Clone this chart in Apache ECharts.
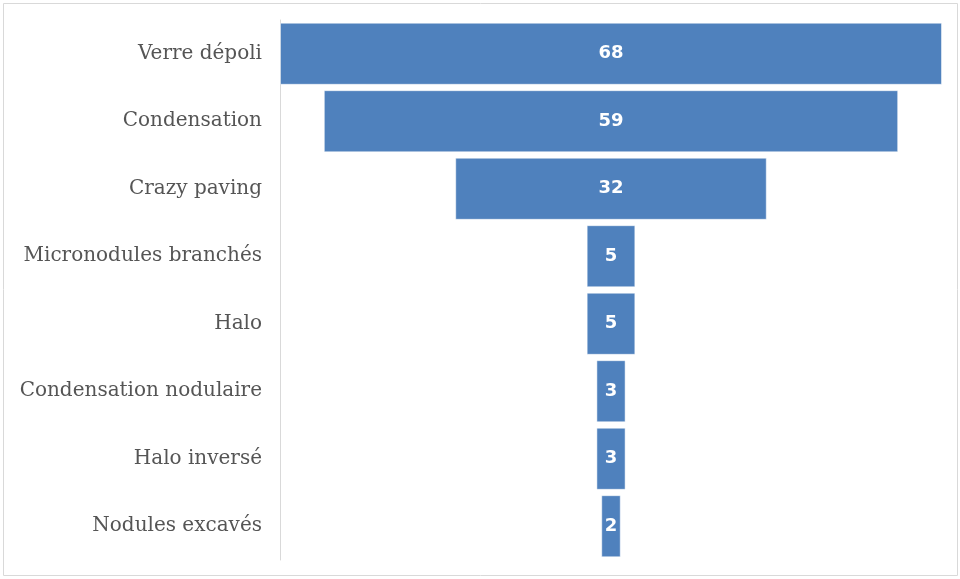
<!DOCTYPE html>
<html>
<head>
<meta charset="utf-8">
<script src="https://cdn.jsdelivr.net/npm/echarts@6/dist/echarts.min.js"></script>
<style>
    html, body { margin: 0; padding: 0; background: #fff; }
    #funnel-chart { width: 960px; height: 579px; }
</style>
</head>
<body>
<div id="funnel-chart"></div>
<script>
    // categories, top to bottom
    var categories = ["Verre dépoli", "Condensation", "Crazy paving", "Micronodules branchés",
        "Halo", "Condensation nodulaire", "Halo inversé", "Nodules excavés"];
    var counts = [68, 59, 32, 5, 5, 3, 3, 2];
    var maxCount = 68;

    // invisible padding so each bar sits centred
    var padding = counts.map(function (v) { return (maxCount - v) / 2; });

    var myChart = echarts.init(document.getElementById("funnel-chart"));
    var options = {
        animation: false,
        grid: { left: 280, right: 18, top: 20, bottom: 19 },
        graphic: [{
            type: 'rect',
            shape: { x: 3.5, y: 3.5, width: 954, height: 572 },
            style: { fill: 'none', stroke: '#d9d9d9', lineWidth: 1 },
            silent: true
        }],
        xAxis: {
            type: 'value',
            min: 0,
            max: maxCount,
            show: false
        },
        yAxis: {
            type: 'category',
            inverse: true,
            data: categories,
            axisTick: { show: false },
            axisLine: { show: true, lineStyle: { color: '#d9d9d9' } },
            axisLabel: {
                margin: 18,
                color: '#555555',
                fontSize: 20,
                fontFamily: 'DejaVu Serif'
            }
        },
        series: [
            {
                type: 'bar',
                stack: 'f',
                data: padding,
                itemStyle: { color: 'transparent' },
                silent: true
            },
            {
                type: 'bar',
                stack: 'f',
                data: counts,
                barCategoryGap: '8%',
                itemStyle: {
                    color: '#4f81bd',
                    borderColor: 'rgba(255,255,255,0.5)',
                    borderWidth: 1
                },
                label: {
                    show: true,
                    position: 'inside',
                    color: '#fff',
                    fontSize: 18,
                    fontWeight: 'bold',
                    fontFamily: 'DejaVu Sans'
                }
            }
        ]
    };
    myChart.setOption(options);
</script>
</body>
</html>
